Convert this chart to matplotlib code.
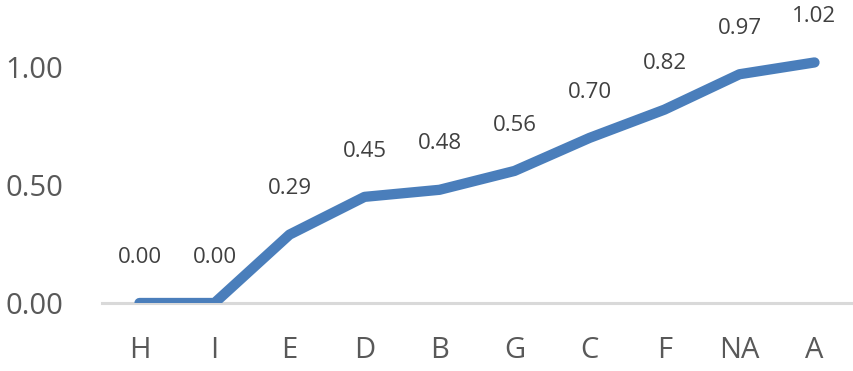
import matplotlib
matplotlib.use("Agg")
import matplotlib.pyplot as plt

categories = ["H", "I", "E", "D", "B", "G", "C", "F", "NA", "A"]
values = [0.00, 0.00, 0.29, 0.45, 0.48, 0.56, 0.70, 0.82, 0.97, 1.02]
yticks = [0.0, 0.5, 1.0]

plt.rcParams['font.family'] = ['Open Sans', 'DejaVu Sans']

fig = plt.figure(figsize=(8.54, 3.71), dpi=100)
W, H = 854, 371
ax = fig.add_axes([102 / W, 68 / H, 750 / W, 283 / H])

x = list(range(len(categories)))
ax.plot(x, values, color="#4A7EBB", lw=7.4, solid_capstyle="round",
        solid_joinstyle="round", zorder=3)
for xi, v in zip(x, values):
    ax.annotate(f"{v:.2f}", (xi, v), xytext=(0, 33), textcoords="offset points",
                ha="center", va="center", fontsize=16, color="#404040")

ax.set_xlim(-0.5, len(categories) - 0.5)
ax.set_ylim(0, 1.2)
ax.set_xticks(x)
ax.set_xticklabels(categories, fontsize=21, color="#595959")
ax.set_yticks(yticks)
ax.set_yticklabels([f"{t:.2f}" for t in yticks], fontsize=21, color="#595959")
ax.tick_params(axis="both", length=0)
ax.tick_params(axis="x", pad=24)
ax.tick_params(axis="y", pad=28)
for s in ["top", "right", "left"]:
    ax.spines[s].set_visible(False)
ax.spines["bottom"].set_color("#D9D9D9")
ax.spines["bottom"].set_linewidth(2.2)
ax.spines["bottom"].set_zorder(2)

fig.savefig("out.png", dpi=100)
